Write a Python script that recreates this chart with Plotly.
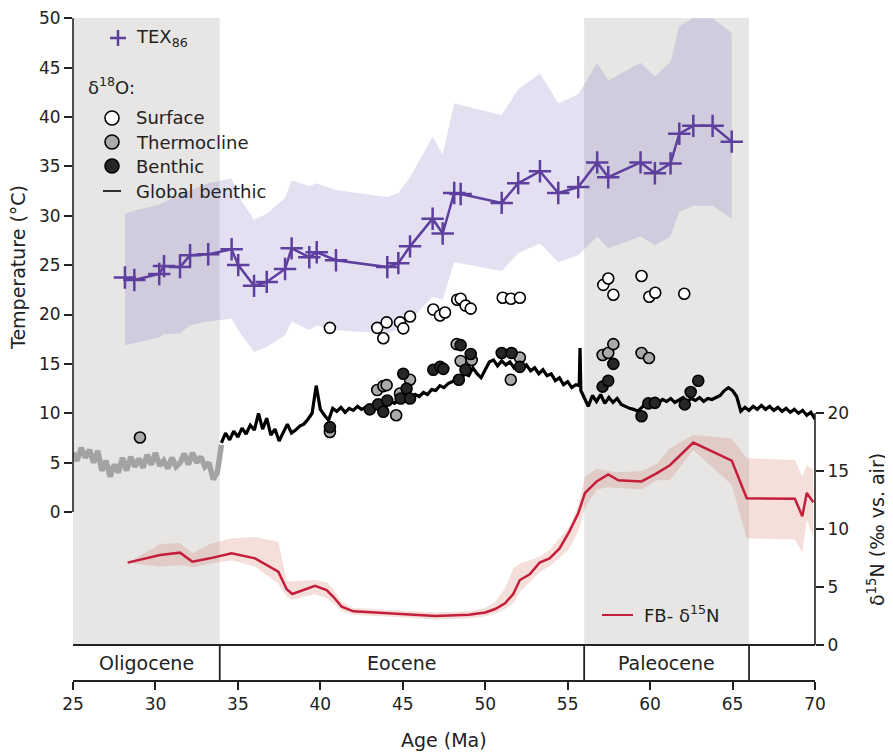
import plotly.graph_objects as go

# ---------------- data ----------------
tex_age = [28.15, 28.72, 30.23, 30.52, 31.49, 32.1, 33.2, 34.62, 35.02, 35.98, 36.75, 37.86, 38.26,
           39.33, 39.78, 40.95, 44.06, 44.73, 45.44, 46.81, 47.42, 48.12, 48.51, 51.0, 52.0, 53.32,
           54.43, 55.64, 56.79, 57.46, 59.42, 60.29, 61.24, 61.77, 62.62, 63.79, 64.95]
tex_t = [23.75, 23.5, 24.1, 24.9, 24.8, 26.0, 26.1, 26.6, 25.0, 22.9, 23.3, 24.6, 26.7,
         25.8, 26.3, 25.5, 24.8, 25.2, 26.9, 29.7, 28.2, 32.3, 32.2, 31.3, 33.3, 34.5,
         32.3, 32.9, 35.4, 33.9, 35.4, 34.3, 35.3, 38.3, 39.1, 39.1, 37.5]
tex_hi = [30.2, 30.5, 31.1, 31.4, 32.1, 32.6, 33.3, 33.8, 32.0, 29.6, 30.2, 31.8, 33.6,
          33.0, 33.3, 32.6, 31.9, 32.3, 33.9, 38.0, 36.2, 41.4, 41.2, 40.2, 42.8, 44.4,
          41.4, 42.3, 45.5, 43.7, 45.5, 44.1, 45.6, 49.2, 50.0, 50.0, 48.5]
tex_lo = [16.9, 17.1, 17.7, 18.0, 18.1, 18.9, 19.3, 19.6, 18.4, 16.2, 16.7, 17.9, 19.3,
          18.4, 18.9, 18.4, 18.1, 18.5, 19.4, 21.8, 21.5, 25.3, 25.2, 24.4, 26.2, 27.2,
          25.3, 26.0, 27.9, 26.7, 27.9, 27.0, 27.9, 30.4, 31.0, 31.0, 29.7]

surf_age = [40.58, 43.45, 43.82, 44.02, 44.83, 45.03, 45.44, 46.85, 47.26, 47.56, 48.3, 48.51,
            48.81, 49.12, 51.06, 51.56, 52.1, 57.16, 57.46, 57.77, 59.48, 59.95, 60.31, 62.07]
surf_t = [18.65, 18.65, 17.6, 19.2, 19.2, 18.6, 19.8, 20.5, 19.9, 20.2, 21.5, 21.6,
          20.9, 20.6, 21.7, 21.6, 21.7, 23.0, 23.65, 22.0, 23.9, 21.8, 22.2, 22.1]

therm_age = [29.06, 40.58, 43.45, 43.82, 44.02, 44.6, 44.83, 45.44, 48.27, 48.51, 49.18, 51.55,
             52.1, 57.12, 57.46, 57.77, 59.48, 59.93]
therm_t = [7.55, 8.1, 12.35, 12.75, 12.85, 9.8, 12.0, 13.4, 17.0, 15.3, 15.4, 13.4,
           15.65, 15.9, 16.1, 17.0, 16.1, 15.6]

benth_age = [40.58, 43.0, 43.5, 43.82, 44.06, 44.87, 45.03, 45.23, 45.44, 46.85, 47.26, 47.46,
             48.4, 48.51, 48.8, 49.12, 51.0, 51.6, 52.1, 57.12, 57.46, 57.77, 59.48, 59.89,
             60.29, 62.1, 62.46, 62.92]
benth_t = [8.6, 10.4, 10.9, 10.15, 11.3, 11.5, 14.0, 12.5, 11.5, 14.4, 14.7, 14.5,
           13.4, 16.9, 14.4, 16.0, 16.1, 16.1, 14.7, 12.7, 13.3, 15.0, 9.7, 11.0,
           11.05, 10.9, 12.15, 13.3]

# global benthic compilation, Oligocene part (grey)
gb_old_age = [25.0, 25.25, 25.5, 25.75, 26.0, 26.25, 26.5, 26.75, 27.0, 27.25, 27.5, 27.75,
              28.0, 28.25, 28.5, 28.75, 29.0, 29.25, 29.5, 29.75, 30.0, 30.25, 30.5, 30.75,
              31.0, 31.25, 31.5, 31.75, 32.0, 32.25, 32.5, 32.75, 33.0, 33.25, 33.5, 33.75, 34.0]
gb_old_t = [6.0, 5.2, 6.5, 5.5, 6.3, 5.0, 6.2, 4.2, 5.2, 3.6, 4.8, 4.0,
            5.5, 4.2, 5.6, 4.6, 5.4, 4.5, 5.8, 4.8, 6.0, 4.7, 5.2, 4.4,
            5.5, 4.6, 5.0, 5.9, 4.8, 6.0, 5.0, 5.6, 4.6, 5.0, 3.3, 4.0, 6.8]

# global benthic compilation, Eocene-Paleocene part (black)
gb_age = [34.0, 34.25, 34.5, 34.75, 35.0, 35.25, 35.5, 35.75, 36.0, 36.25, 36.5, 36.75,
          37.0, 37.25, 37.5, 37.75, 38.0, 38.25, 38.5, 38.75, 39.0, 39.25, 39.5, 39.75,
          40.0, 40.25, 40.5, 40.75, 41.0, 41.25, 41.5, 41.75, 42.0, 42.25, 42.5, 42.75,
          43.0, 43.25, 43.5, 43.75, 44.0, 44.25, 44.5, 44.75, 45.0, 45.25, 45.5, 45.75,
          46.0, 46.25, 46.5, 46.75, 47.0, 47.25, 47.5, 47.75, 48.0, 48.25, 48.5, 48.75,
          49.0, 49.25, 49.5, 49.75, 50.0, 50.25, 50.5, 50.75, 51.0, 51.25, 51.5, 51.75,
          52.0, 52.25, 52.5, 52.75, 53.0, 53.25, 53.5, 53.75, 54.0, 54.25, 54.5, 54.75,
          55.0, 55.25, 55.5, 55.7, 55.75, 55.8, 56.0, 56.25, 56.5, 56.75, 57.0, 57.25,
          57.5, 57.75, 58.0, 58.25, 58.5, 58.75, 59.0, 59.25, 59.5, 59.75, 60.0, 60.25,
          60.5, 60.75, 61.0, 61.25, 61.5, 61.75, 62.0, 62.25, 62.5, 62.75, 63.0, 63.25,
          63.5, 63.75, 64.0, 64.25, 64.5, 64.75, 65.0, 65.25, 65.5, 65.75, 66.0, 66.25,
          66.5, 66.75, 67.0, 67.25, 67.5, 67.75, 68.0, 68.25, 68.5, 68.75, 69.0, 69.25,
          69.5, 69.75, 70.0]
gb_t = [7.0, 8.0, 7.3, 8.2, 7.6, 8.5, 7.9, 8.8, 8.3, 10.0, 8.4, 9.5,
        7.8, 8.4, 7.2, 8.0, 8.9, 8.0, 8.3, 8.7, 8.9, 9.4, 10.0, 12.8,
        10.4, 9.8, 9.3, 10.5, 10.2, 10.6, 10.1, 10.5, 10.3, 10.7, 10.4, 10.6,
        10.5, 10.9, 10.6, 10.9, 10.7, 11.2, 11.0, 11.4, 11.1, 11.6, 11.4, 11.9,
        11.7, 12.1, 11.9, 12.4, 12.3, 12.8, 12.6, 13.0, 13.2, 13.4, 13.3, 14.0,
        13.8, 14.6, 14.0, 13.6, 14.4, 15.2, 15.4, 14.8, 15.3, 14.9, 15.2, 14.6,
        15.0, 14.5, 14.9, 14.3, 14.6, 14.0, 14.4, 13.8, 14.0, 13.3, 13.6, 12.9,
        13.2, 12.6, 12.9, 12.8, 16.6, 12.3, 11.6, 10.7, 11.8, 11.2, 11.9, 11.0,
        11.6, 11.1, 11.5, 10.9, 10.7, 10.5, 10.4, 10.2, 10.6, 11.0, 10.8, 11.2,
        11.0, 11.4, 11.2, 11.5, 11.1, 11.4, 11.6, 11.2, 11.5, 11.3, 11.6, 11.2,
        11.5, 11.4, 11.6, 11.8, 12.3, 12.6, 12.3, 11.7, 10.2, 10.6, 10.3, 10.7,
        10.4, 10.8, 10.4, 10.7, 10.3, 10.6, 10.2, 10.5, 10.1, 10.4, 10.0, 10.3,
        9.8, 10.1, 9.4]

# fish-bone d15N
n_age = [28.31, 30.28, 31.49, 32.24, 33.3, 34.62, 36.04, 37.45, 37.96, 38.3, 39.68, 40.38,
         40.79, 41.3, 42.0, 44.0, 45.5, 47.0, 49.0, 50.0, 50.6, 51.2, 51.7, 52.1,
         52.7, 53.3, 53.9, 54.5, 55.1, 55.64, 56.05, 56.76, 57.46, 58.07, 59.48, 60.39,
         61.2, 62.62, 64.95, 65.86, 68.78, 69.23, 69.5, 69.9]
n_val = [7.1, 7.76, 7.96, 7.18, 7.47, 7.9, 7.47, 6.32, 4.8, 4.4, 5.1, 4.74,
         4.16, 3.3, 2.9, 2.75, 2.6, 2.5, 2.6, 2.8, 3.1, 3.6, 4.4, 5.6,
         6.1, 7.1, 7.47, 8.3, 9.77, 11.35, 13.1, 14.1, 14.7, 14.2, 14.1, 14.8,
         15.5, 17.45, 15.9, 12.65, 12.6, 11.1, 13.1, 12.3]
n_hi = [7.1, 8.7, 8.8, 7.9, 8.7, 9.2, 9.3, 8.9, 5.5, 5.5, 5.6, 5.4,
        4.8, 3.7, 3.2, 3.05, 2.9, 2.8, 2.9, 3.2, 3.7, 4.9, 6.6, 7.0,
        7.3, 7.6, 8.2, 9.2, 10.2, 12.0, 14.5, 15.2, 15.0, 14.9, 15.0, 15.6,
        16.95, 18.1, 17.8, 16.1, 15.95, 14.5, 15.5, 15.1]
n_lo = [7.1, 6.75, 6.9, 6.7, 7.0, 7.3, 6.75, 5.3, 4.16, 3.9, 4.4, 4.0,
        3.6, 2.9, 2.6, 2.45, 2.3, 2.2, 2.3, 2.45, 2.7, 3.1, 3.6, 4.6,
        5.4, 6.3, 6.8, 7.5, 8.3, 9.8, 11.8, 13.4, 13.6, 13.5, 13.4, 14.2,
        14.2, 16.8, 13.8, 9.2, 9.1, 7.95, 10.8, 9.3]

epochs = ["Oligocene", "Eocene", "Paleocene"]
epoch_bounds = [25.0, 33.9, 56.0, 66.0]
shaded = [(25.0, 33.9), (56.0, 66.0)]
x_ticks = [25, 30, 35, 40, 45, 50, 55, 60, 65, 70]
t_ticks = [0, 5, 10, 15, 20, 25, 30, 35, 40, 45, 50]
n_ticks = [0, 5, 10, 15, 20]

# ---------------- styling ----------------
FONT = "DejaVu Sans"
INK = "#222222"
PURPLE = "#5e3f9e"
RED = "#c41e3a"
SHADE = "#e7e6e5"
BAR_Y = 35 / 662  # top of epoch bar in paper units

fig = go.Figure()

# TEX86 uncertainty band
fig.add_trace(go.Scatter(x=tex_age + tex_age[::-1], y=tex_hi + tex_lo[::-1], fill="toself",
                         fillcolor="rgba(120,100,190,0.2)", line=dict(width=0),
                         hoverinfo="skip", showlegend=False, mode="lines"))
# global benthic
fig.add_trace(go.Scatter(x=gb_old_age, y=gb_old_t, mode="lines",
                         line=dict(color="#a3a3a3", width=5.5), showlegend=False))
fig.add_trace(go.Scatter(x=gb_age, y=gb_t, mode="lines",
                         line=dict(color="black", width=3.2), showlegend=False))
# TEX86 line
fig.add_trace(go.Scatter(x=tex_age, y=tex_t, mode="lines+markers",
                         line=dict(color=PURPLE, width=2.5),
                         marker=dict(symbol="cross-thin-open", size=16,
                                     line=dict(color=PURPLE, width=2.5)),
                         showlegend=False))
# d18O points
for ages, vals, fillc in [(surf_age, surf_t, "white"), (therm_age, therm_t, "#aaaaaa"),
                          (benth_age, benth_t, "#262626")]:
    fig.add_trace(go.Scatter(x=ages, y=vals, mode="markers",
                             marker=dict(size=11, color=fillc, line=dict(color="black", width=1.6)),
                             showlegend=False))
# d15N band + line (right axis)
fig.add_trace(go.Scatter(x=n_age + n_age[::-1], y=n_hi + n_lo[::-1], fill="toself",
                         fillcolor="rgba(205,110,90,0.22)", line=dict(width=0), mode="lines",
                         hoverinfo="skip", showlegend=False, yaxis="y2"))
fig.add_trace(go.Scatter(x=n_age, y=n_val, mode="lines", line=dict(color=RED, width=2.5),
                         showlegend=False, yaxis="y2"))

shapes = []
for a0, a1 in shaded:
    shapes.append(dict(type="rect", xref="x", yref="paper", x0=a0, x1=a1, y0=BAR_Y, y1=1,
                       fillcolor=SHADE, line=dict(width=0), layer="below"))
# epoch bar
shapes.append(dict(type="line", xref="paper", yref="paper", x0=0, x1=1, y0=BAR_Y, y1=BAR_Y,
                   line=dict(color=INK, width=1.8)))
for b in epoch_bounds[1:]:
    shapes.append(dict(type="line", xref="x", yref="paper", x0=b, x1=b, y0=0, y1=BAR_Y,
                       line=dict(color=INK, width=1.8)))
# spines
shapes.append(dict(type="line", xref="paper", yref="y", x0=0, x1=0, y0=0, y1=50,
                   line=dict(color=INK, width=1.6)))
shapes.append(dict(type="line", xref="paper", yref="y2", x0=1, x1=1, y0=0, y1=20,
                   line=dict(color=INK, width=1.6)))

# legend glyph positions, given relative to the plot area (paper coordinates)
def px(x):
    return (x - 73) / 742

def py(y):
    return (680 - y) / 662

shapes.append(dict(type="line", xref="paper", yref="paper", xsizemode="pixel", ysizemode="pixel",
                   xanchor=px(118), yanchor=py(38), x0=-8, x1=8, y0=0, y1=0,
                   line=dict(color=PURPLE, width=2.5)))
shapes.append(dict(type="line", xref="paper", yref="paper", xsizemode="pixel", ysizemode="pixel",
                   xanchor=px(118), yanchor=py(38), x0=0, x1=0, y0=-8, y1=8,
                   line=dict(color=PURPLE, width=2.5)))
for yy, fc in [(118, "white"), (142, "#aaaaaa"), (166, "#262626")]:
    shapes.append(dict(type="circle", xref="paper", yref="paper", xsizemode="pixel",
                       ysizemode="pixel", xanchor=px(112), yanchor=py(yy), x0=-7, x1=7, y0=-7, y1=7,
                       fillcolor=fc, line=dict(color="black", width=1.6)))
shapes.append(dict(type="line", xref="paper", yref="paper", x0=px(103), x1=px(121),
                   y0=py(191), y1=py(191), line=dict(color="black", width=1.6)))
shapes.append(dict(type="line", xref="paper", yref="paper", x0=px(602), x1=px(633),
                   y0=py(615), y1=py(615), line=dict(color=RED, width=2)))

ann = []
LF = dict(family=FONT, size=18, color=INK)
ann.append(dict(x=px(134), y=py(38), xref="paper", yref="paper", text="TEX<sub>86</sub>",
                showarrow=False, xanchor="left", yanchor="middle", font=LF))
ann.append(dict(x=px(86), y=py(86), xref="paper", yref="paper", text="δ<sup>18</sup>O:",
                showarrow=False, xanchor="left", yanchor="middle", font=LF))
for yy, txt in [(118, "Surface"), (142, "Thermocline"), (166, "Benthic"), (191, "Global benthic")]:
    ann.append(dict(x=px(134), y=py(yy), xref="paper", yref="paper", text=txt,
                    showarrow=False, xanchor="left", yanchor="middle", font=LF))
ann.append(dict(x=px(642), y=py(614), xref="paper", yref="paper", text="FB- δ<sup>15</sup>N",
                showarrow=False, xanchor="left", yanchor="middle", font=LF))
EF = dict(family=FONT, size=19, color=INK)
for name, a0, a1 in zip(epochs, epoch_bounds[:-1], epoch_bounds[1:]):
    ann.append(dict(x=(a0 + a1) / 2, y=BAR_Y / 2, xref="x", yref="paper", text=name,
                    showarrow=False, xanchor="center", yanchor="middle", font=EF))
TF = dict(family=FONT, size=19, color=INK)
ann.append(dict(x=px(18), y=py(268), xref="paper", yref="paper", text="Temperature (°C)",
                textangle=-90, showarrow=False, xanchor="center", yanchor="middle", font=TF))
ann.append(dict(x=px(876), y=py(530), xref="paper", yref="paper",
                text="δ<sup>15</sup>N (‰ vs. air)",
                textangle=-90, showarrow=False, xanchor="center", yanchor="middle", font=TF))
ann.append(dict(x=0.5, y=py(740), xref="paper", yref="paper", text="Age (Ma)",
                showarrow=False, xanchor="center", yanchor="middle", font=TF))

tickfont = dict(family=FONT, size=17, color=INK)
# page body has an 8 px margin: figure is 8 px smaller and shifted accordingly
fig.update_layout(
    width=885, height=744,
    margin=dict(l=65, r=78, t=10, b=72, autoexpand=False),
    paper_bgcolor="white", plot_bgcolor="white",
    showlegend=False,
    xaxis=dict(range=[25, 70], tickvals=x_ticks, ticks="outside", ticklen=8, tickwidth=1.6,
               tickcolor=INK, showline=True, linecolor=INK, linewidth=2, showgrid=False,
               zeroline=False, tickfont=tickfont, automargin=False),
    yaxis=dict(range=[50 - 662 / 9.88, 50.02], tickvals=t_ticks, ticks="outside", ticklen=8,
               tickwidth=1.6, tickcolor=INK, showline=False, showgrid=False, zeroline=False,
               tickfont=tickfont, automargin=False),
    yaxis2=dict(range=[-35 / 11.6, 627 / 11.6], overlaying="y", side="right", tickvals=n_ticks,
                ticks="outside", ticklen=8, tickwidth=1.6, tickcolor=INK, showline=False,
                showgrid=False, zeroline=False, tickfont=tickfont, automargin=False),
    shapes=shapes,
    annotations=ann,
)

fig.write_html("out.html")
